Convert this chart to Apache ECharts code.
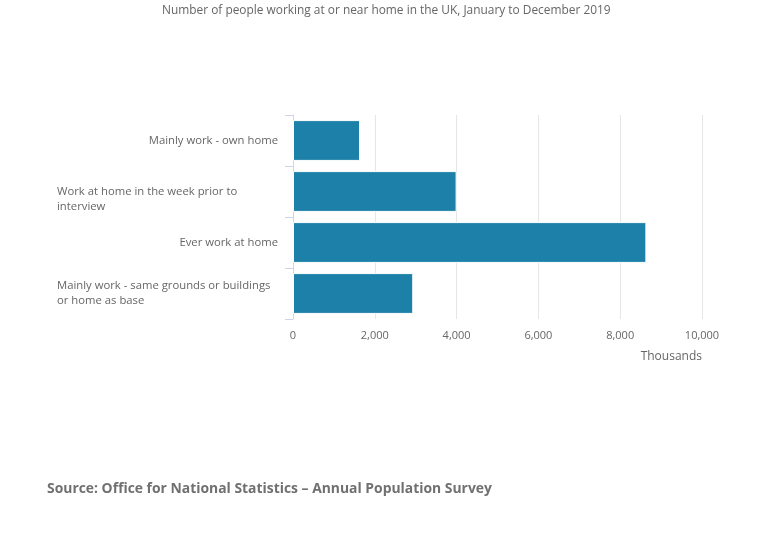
<!DOCTYPE html>
<html>
<head>
<meta charset="utf-8">
<script src="https://cdn.jsdelivr.net/npm/echarts@6/dist/echarts.min.js"></script>
<style>html,body{margin:0;padding:0;background:#fff}#c{width:783px;height:543px}</style>
</head>
<body>
<div id="c"></div>
<script>
const categories = [
  'Mainly work - own home',
  'Work at home in the week prior to interview',
  'Ever work at home',
  'Mainly work - same grounds or buildings or home as base'
];
const values = [1640, 4000, 8640, 2940];
const xTicks = [0, 2000, 4000, 6000, 8000, 10000];
const titleText = 'Number of people working at or near home in the UK, January to December 2019';
const sourceText = 'Source: Office for National Statistics \u2013 Annual Population Survey';
const axisName = 'Thousands';

function wrap(s, maxChars) {
  const words = s.split(' ');
  const lines = [];
  let cur = '';
  for (const w of words) {
    if (cur && (cur + ' ' + w).length > maxChars) { lines.push(cur); cur = w; }
    else cur = cur ? cur + ' ' + w : w;
  }
  if (cur) lines.push(cur);
  return lines;
}

const FS = 11.3;
const chart = echarts.init(document.getElementById('c'), null, {renderer: 'canvas'});
chart.setOption({
  animation: false,
  backgroundColor: '#fff',
  textStyle: {fontFamily: 'Open Sans'},
  title: [
    {text: titleText, left: 157, top: 0,
     textStyle: {fontFamily: 'Open Sans', fontSize: 11.9, fontWeight: 'normal', color: '#666'}},
    {text: sourceText, left: 42, top: 477,
     textStyle: {fontFamily: 'Open Sans', fontSize: 13.9, fontWeight: 'bold', color: '#707071'}}
  ],
  grid: {left: 293, right: 81, top: 115, bottom: 224, containLabel: false},
  xAxis: {
    type: 'value', min: 0, max: 10000, interval: 2000,
    axisLine: {show: false}, axisTick: {show: false},
    splitLine: {show: true, lineStyle: {color: '#e6e6e6', width: 1}},
    axisLabel: {margin: 11, fontSize: 11, color: '#666', fontFamily: 'Open Sans',
      formatter: v => xTicks.includes(v) ? v.toLocaleString('en-GB') : ''},
    name: axisName, nameLocation: 'end', nameGap: 0,
    nameTextStyle: {fontSize: 12, color: '#666', fontFamily: 'Open Sans',
      align: 'right', verticalAlign: 'top', padding: [32, 0, 0, 0]}
  },
  yAxis: {
    type: 'category', data: categories, inverse: true,
    axisLine: {show: true, lineStyle: {color: '#ccd6eb', width: 1}},
    axisTick: {show: true, length: 8, lineStyle: {color: '#ccd6eb'}},
    axisLabel: {
      margin: 15, fontSize: FS, color: '#666', fontFamily: 'Open Sans', lineHeight: 15,
      formatter: (v, i) => {
        const lines = wrap(v, 40);
        if (lines.length === 1) return '{r|' + v + '}';
        const body = lines.map(l => '{l|' + l + '}').join('\n');
        return i === 1 ? '{e| }\n' + body : body;
      },
      rich: {
        r: {fontSize: FS, color: '#666', fontFamily: 'Open Sans', lineHeight: 16, align: 'right'},
        l: {fontSize: FS, color: '#666', fontFamily: 'Open Sans', lineHeight: 15, width: 221, align: 'left'},
        e: {fontSize: FS, lineHeight: 16, width: 221, align: 'left'}
      }
    }
  },
  series: [{
    type: 'bar', data: values, barCategoryGap: '20%',
    itemStyle: {color: '#1d80a8', borderColor: '#ffffff', borderWidth: 1}
  }]
});
</script>
</body>
</html>
